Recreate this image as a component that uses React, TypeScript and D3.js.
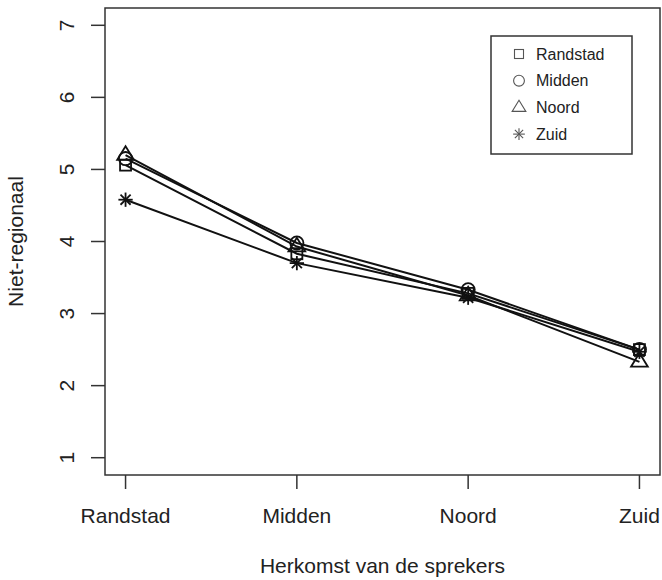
import React from "react";
import * as d3 from "d3";

const categories = ["Randstad", "Midden", "Noord", "Zuid"];
const seriesNames = ["Randstad", "Midden", "Noord", "Zuid"];
const randstadValues = [5.06, 3.83, 3.28, 2.5];
const middenValues = [5.15, 3.98, 3.33, 2.5];
const noordValues = [5.2, 3.93, 3.25, 2.33];
const zuidValues = [4.58, 3.7, 3.22, 2.47];
const yTicks = [1, 2, 3, 4, 5, 6, 7];
const shapes = ["square", "circle", "triangle", "star"];

const W = 662;
const H = 580;
const FONT = "'Liberation Sans', Arial, Helvetica, sans-serif";

function Marker({ shape, x, y, s, color, sw }: any) {
  if (shape === "square") {
    return <rect x={x - s / 2} y={y - s / 2} width={s} height={s} fill="none" stroke={color} strokeWidth={sw} />;
  }
  if (shape === "circle") {
    return <circle cx={x} cy={y} r={s * 0.6} fill="none" stroke={color} strokeWidth={sw} />;
  }
  if (shape === "triangle") {
    const r = s * 0.8;
    const pts = [
      [x, y - r],
      [x - r * 0.866 * 1.1, y + r * 0.55],
      [x + r * 0.866 * 1.1, y + r * 0.55],
    ];
    return <polygon points={pts.map((p) => p.join(",")).join(" ")} fill="none" stroke={color} strokeWidth={sw} />;
  }
  const r = s * 0.65;
  const d = r * 0.707;
  return (
    <g stroke={color} strokeWidth={sw}>
      <line x1={x - r} y1={y} x2={x + r} y2={y} />
      <line x1={x} y1={y - r} x2={x} y2={y + r} />
      <line x1={x - d} y1={y - d} x2={x + d} y2={y + d} />
      <line x1={x - d} y1={y + d} x2={x + d} y2={y - d} />
    </g>
  );
}

export default function App() {
  const series = [randstadValues, middenValues, noordValues, zuidValues];
  const left = 105, right = 660, top = 8, bottom = 475;
  const x = d3.scaleLinear().domain([0.88, 4.12]).range([left, right]);
  const y = d3.scaleLinear().domain([0.76, 7.24]).range([bottom, top]);
  const line = d3
    .line<number>()
    .x((_, i) => x(i + 1))
    .y((v) => y(v));
  const ink = "#222";
  return (
    <svg width={W} height={H} style={{ position: "absolute", left: 0, top: 0 }} fontFamily={FONT}>
      <rect x={0} y={0} width={W} height={H} fill="#fff" />
      <rect x={left} y={top} width={right - left} height={bottom - top} fill="none" stroke="#333" strokeWidth={1.5} />
      {yTicks.map((t) => (
        <g key={t}>
          <line x1={left - 14} x2={left} y1={y(t)} y2={y(t)} stroke="#333" strokeWidth={1.5} />
          <text
            transform={`translate(66,${y(t)}) rotate(-90)`}
            textAnchor="middle"
            dominantBaseline="central"
            fontSize={21}
            fill={ink}
          >
            {t}
          </text>
        </g>
      ))}
      {categories.map((c, i) => (
        <g key={c}>
          <line x1={x(i + 1)} x2={x(i + 1)} y1={bottom} y2={bottom + 14} stroke="#333" strokeWidth={1.5} />
          <text x={x(i + 1)} y={523} textAnchor="middle" fontSize={21} fill={ink}>
            {c}
          </text>
        </g>
      ))}
      <text x={(left + right) / 2} y={573} textAnchor="middle" fontSize={21} fill={ink}>
        Herkomst van de sprekers
      </text>
      <text
        transform={`translate(15,${(top + bottom) / 2}) rotate(-90)`}
        textAnchor="middle"
        dominantBaseline="central"
        fontSize={21}
        fill={ink}
      >
        Niet-regionaal
      </text>
      {series.map((vals, si) => (
        <g key={si}>
          <path d={line(vals) || ""} fill="none" stroke="#111" strokeWidth={2} />
          {vals.map((v, i) => (
            <Marker key={i} shape={shapes[si]} x={x(i + 1)} y={y(v)} s={11} color="#111" sw={1.8} />
          ))}
        </g>
      ))}
      <rect x={491} y={36} width={141} height={118} fill="#fff" stroke="#333" strokeWidth={1.5} />
      {seriesNames.map((n, i) => (
        <g key={n}>
          <Marker shape={shapes[i]} x={519} y={54 + i * 26.7} s={9} color="#555" sw={1.1} />
          <text x={536} y={54 + i * 26.7} dominantBaseline="central" fontSize={16} fill={ink}>
            {n}
          </text>
        </g>
      ))}
    </svg>
  );
}
